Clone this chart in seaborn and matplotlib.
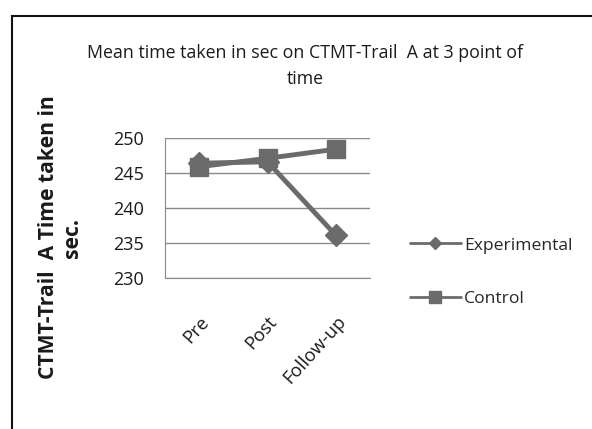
import matplotlib
matplotlib.use("Agg")
import matplotlib.pyplot as plt
import seaborn as sns
import pandas as pd
from matplotlib.patches import Rectangle
from matplotlib.lines import Line2D

categories = ["Pre", "Post", "Follow-up"]
experimental = [246.4, 246.6, 236.1]
control = [245.9, 247.1, 248.4]
series_names = ["Experimental", "Control"]
y_ticks = [230, 235, 240, 245, 250]

df = pd.DataFrame({
    "time": categories * 2,
    "value": experimental + control,
    "group": [series_names[0]] * 3 + [series_names[1]] * 3,
})

sns.set_style("white")
plt.rcParams["font.family"] = ["Open Sans", "DejaVu Sans"]

fig = plt.figure(figsize=(5.92, 4.29), dpi=100)
ax = fig.add_axes([165 / 592, 1 - 278 / 429, 205 / 592, 140 / 429])

gray = "#6b6b6b"
sns.lineplot(data=df, x="time", y="value", hue="group",
             palette={series_names[0]: gray, series_names[1]: gray},
             linewidth=3.5, ax=ax, legend=False, sort=False)
for name, vals, mk, ms in [(series_names[0], experimental, "D", 11),
                           (series_names[1], control, "s", 13)]:
    ax.plot(categories, vals, linestyle="none", marker=mk, markersize=ms,
            color=gray, zorder=5)

ax.set_xlim(-0.5, 2.5)
ax.set_ylim(y_ticks[0], y_ticks[-1])
ax.set_yticks(y_ticks)
ax.yaxis.grid(True, color="#8a8a8a", linewidth=1)
ax.xaxis.grid(False)
for s in ["top", "right"]:
    ax.spines[s].set_visible(False)
ax.spines["left"].set_color("#8a8a8a")
ax.spines["bottom"].set_color("#8a8a8a")
ax.tick_params(axis="y", labelsize=13, length=0, pad=15, colors="#1a1a1a")
ax.tick_params(axis="x", labelsize=13.3, length=0, pad=25, colors="#1a1a1a")
for lbl in ax.get_xticklabels():
    lbl.set_rotation(48)
    lbl.set_ha("right")
    lbl.set_rotation_mode("anchor")
ax.set_xlabel("")
ax.set_ylabel("")

fig.text(60.5 / 592, 1 - 237.5 / 429, "CTMT-Trail  A Time taken in\nsec.",
         rotation=90, ha="center", va="center", multialignment="center",
         fontsize=15.2, fontweight="bold", color="#1a1a1a")

fig.text(305 / 592, 1 - 66 / 429,
         "Mean time taken in sec on CTMT-Trail  A at 3 point of\ntime",
         ha="center", va="center", fontsize=12.8, color="#1a1a1a",
         linespacing=1.6)

handles = [Line2D([], [], color=gray, linewidth=2, marker="D", markersize=6),
           Line2D([], [], color=gray, linewidth=2, marker="s", markersize=8)]
fig.legend(handles, series_names, loc="center left",
           bbox_to_anchor=(394 / 592, 1 - 272 / 429),
           frameon=False, fontsize=12.6, labelspacing=2.1, handlelength=2.9,
           handletextpad=0.2)

fig.patches.append(Rectangle((12 / 592, -0.1), 1.2, 1 - 16 / 429 + 0.1,
                             transform=fig.transFigure, fill=False,
                             edgecolor="#111111", linewidth=1.5))

fig.savefig("out.png", dpi=100)
